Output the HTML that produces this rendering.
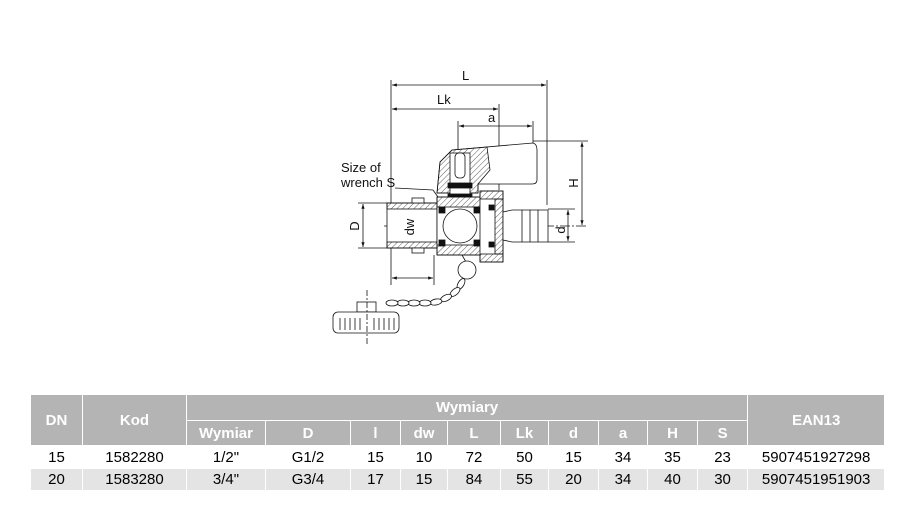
<!DOCTYPE html>
<html><head><meta charset="utf-8"><style>
body{margin:0;background:#fff;width:899px;height:516px;position:relative;overflow:hidden;font-family:"Liberation Sans",Arial,sans-serif}
svg{position:absolute;left:0;top:0}
table{position:absolute;left:30px;top:394px;border-collapse:collapse;width:854px;font-size:15px;table-layout:fixed}
td{text-align:center;padding:0;border:1px solid #fff;white-space:nowrap;overflow:hidden}
.h{background:#b4b4b4;color:#fff;font-weight:bold;font-size:15px}
.r2 td{background:#e4e4e4}
</style></head><body>
<svg width="899" height="380" viewBox="0 0 899 380" font-family="Liberation Sans, sans-serif" fill="none" stroke="#111" stroke-width="0.8">
<defs>
<pattern id="hat" width="4" height="4" patternUnits="userSpaceOnUse" patternTransform="rotate(45)"><line x1="0" y1="0" x2="0" y2="4" stroke="#333" stroke-width="0.8"/></pattern>
<marker id="a" markerWidth="6" markerHeight="6" refX="6" refY="3" orient="auto-start-reverse"><path d="M0,1 L6,3 L0,5z" fill="#111" stroke="none"/></marker>
</defs>
<line x1="391" y1="80" x2="391" y2="285"/>
<line x1="547" y1="80" x2="547" y2="205"/>
<line x1="499" y1="104" x2="499" y2="190"/>
<line x1="458" y1="121" x2="458" y2="155"/>
<line x1="533" y1="121" x2="533" y2="150"/>
<line x1="434" y1="255" x2="434" y2="285"/>
<line x1="392" y1="85" x2="546" y2="85" marker-start="url(#a)" marker-end="url(#a)"/>
<line x1="392" y1="109" x2="498" y2="109" marker-start="url(#a)" marker-end="url(#a)"/>
<line x1="459" y1="126" x2="532" y2="126" marker-start="url(#a)" marker-end="url(#a)"/>
<line x1="392" y1="278" x2="433" y2="278" marker-start="url(#a)" marker-end="url(#a)"/>
<line x1="533" y1="141" x2="588" y2="141"/>
<line x1="582" y1="142" x2="582" y2="225" marker-start="url(#a)" marker-end="url(#a)"/>
<line x1="548" y1="209" x2="575" y2="209"/>
<line x1="548" y1="242" x2="575" y2="242"/>
<line x1="568" y1="210" x2="568" y2="241" marker-start="url(#a)" marker-end="url(#a)"/>
<line x1="358" y1="203" x2="390" y2="203"/>
<line x1="358" y1="248" x2="390" y2="248"/>
<line x1="363" y1="204" x2="363" y2="247" marker-start="url(#a)" marker-end="url(#a)"/>
<line x1="395" y1="213" x2="420" y2="213"/>
<line x1="395" y1="240" x2="420" y2="240"/>
<line x1="418" y1="214" x2="418" y2="239" marker-start="url(#a)" marker-end="url(#a)"/>
<line x1="384" y1="226" x2="588" y2="226" stroke-dasharray="10,2,2,2"/>
<path d="M437,193 L440,162 L452,150 L533,143 Q537,144 537,150 L537,180 Q537,184 532,184 L478,184 L478,193 Z" fill="#fff"/>
<path d="M437,193 L440,162 L452,150 L487,147 L490,170 L478,184 L478,193 Z" fill="url(#hat)"/>
<rect x="450" y="153" width="20" height="55" fill="#fff"/>
<rect x="455" y="153" width="10" height="25" rx="4" fill="#fff"/>
<rect x="448" y="183" width="24" height="5" fill="#111"/>
<rect x="448" y="194" width="24" height="5" fill="#111"/>
<rect x="387" y="203" width="50" height="45" fill="#fff"/>
<rect x="387" y="203" width="50" height="6" fill="url(#hat)"/>
<rect x="387" y="242" width="50" height="6" fill="url(#hat)"/>
<rect x="437" y="197" width="45" height="58" fill="#fff"/>
<rect x="437" y="197" width="45" height="10" fill="url(#hat)"/>
<rect x="437" y="245" width="45" height="10" fill="url(#hat)"/>
<circle cx="460" cy="226" r="17" fill="#fff"/>
<rect x="439" y="207" width="6" height="6" fill="#111"/><rect x="474" y="207" width="6" height="6" fill="#111"/>
<rect x="439" y="240" width="6" height="6" fill="#111"/><rect x="474" y="240" width="6" height="6" fill="#111"/>
<rect x="412" y="198" width="12" height="5" fill="#fff"/>
<rect x="412" y="248" width="12" height="5" fill="#fff"/>
<rect x="480" y="191" width="23" height="71" fill="#fff"/>
<rect x="480" y="191" width="23" height="8" fill="url(#hat)"/>
<rect x="480" y="254" width="23" height="8" fill="url(#hat)"/>
<rect x="495" y="199" width="8" height="55" fill="url(#hat)"/>
<rect x="489" y="205" width="5" height="5" fill="#111"/><rect x="489" y="242" width="5" height="5" fill="#111"/>
<path d="M503,212 L512,210 L548,210 L548,242 L512,242 L503,240 Z" fill="#fff"/>
<line x1="522" y1="210" x2="522" y2="242"/><line x1="530" y1="210" x2="530" y2="242"/><line x1="538" y1="210" x2="538" y2="242"/>
<text x="341" y="172" font-size="13" fill="#111" stroke="none">Size of</text>
<text x="341" y="187" font-size="13" fill="#111" stroke="none">wrench S</text>
<line x1="395" y1="188" x2="433" y2="190"/><line x1="433" y1="190" x2="438" y2="197"/>
<text x="462" y="80" font-size="13" fill="#111" stroke="none">L</text>
<text x="437" y="104" font-size="13" fill="#111" stroke="none">Lk</text>
<text x="488" y="122" font-size="13" fill="#111" stroke="none">a</text>
<text transform="translate(578,183) rotate(-90)" font-size="13" fill="#111" stroke="none" text-anchor="middle">H</text>
<text transform="translate(565,230) rotate(-90)" font-size="13" fill="#111" stroke="none" text-anchor="middle">d</text>
<text transform="translate(359,226) rotate(-90)" font-size="13" fill="#111" stroke="none" text-anchor="middle">D</text>
<text transform="translate(414,227) rotate(-90)" font-size="13" fill="#111" stroke="none" text-anchor="middle">dw</text>
<line x1="462" y1="255" x2="466" y2="262"/>
<circle cx="467" cy="270" r="9" fill="#fff"/>
<g fill="#fff">
<ellipse cx="461" cy="284" rx="3" ry="6" transform="rotate(30 461 284)"/>
<ellipse cx="455" cy="292" rx="3" ry="6" transform="rotate(50 455 292)"/>
<ellipse cx="446" cy="298" rx="3" ry="6" transform="rotate(65 446 298)"/>
<ellipse cx="436" cy="302" rx="3" ry="6" transform="rotate(80 436 302)"/>
<ellipse cx="425" cy="303" rx="3" ry="6" transform="rotate(90 425 303)"/>
<ellipse cx="414" cy="303" rx="3" ry="6" transform="rotate(90 414 303)"/>
<ellipse cx="403" cy="303" rx="3" ry="6" transform="rotate(90 403 303)"/>
<ellipse cx="392" cy="303" rx="3" ry="6" transform="rotate(90 392 303)"/>
</g>
<rect x="357" y="302" width="19" height="10" fill="#fff"/>
<rect x="333" y="312" width="66" height="21" rx="5" fill="#fff"/>
<g>
<line x1="340" y1="318" x2="340" y2="330"/><line x1="345" y1="318" x2="345" y2="330"/><line x1="350" y1="318" x2="350" y2="330"/><line x1="355" y1="318" x2="355" y2="330"/><line x1="360" y1="318" x2="360" y2="330"/><line x1="374" y1="318" x2="374" y2="330"/><line x1="379" y1="318" x2="379" y2="330"/><line x1="384" y1="318" x2="384" y2="330"/><line x1="389" y1="318" x2="389" y2="330"/><line x1="394" y1="318" x2="394" y2="330"/>
</g>
<line x1="367" y1="290" x2="367" y2="345" stroke-dasharray="6,2,2,2"/>
</svg>
<table>
<colgroup><col style="width:52px"><col style="width:104px"><col style="width:79px"><col style="width:85px"><col style="width:50px"><col style="width:47px"><col style="width:53px"><col style="width:48px"><col style="width:50px"><col style="width:49px"><col style="width:50px"><col style="width:50px"><col style="width:137px"></colgroup>
<tr class="h" style="height:26px"><td rowspan="2">DN</td><td rowspan="2">Kod</td><td colspan="10">Wymiary</td><td rowspan="2">EAN13</td></tr>
<tr class="h" style="height:25px"><td>Wymiar</td><td>D</td><td>l</td><td>dw</td><td>L</td><td>Lk</td><td>d</td><td>a</td><td>H</td><td>S</td></tr>
<tr style="height:23px"><td>15</td><td>1582280</td><td>1/2"</td><td>G1/2</td><td>15</td><td>10</td><td>72</td><td>50</td><td>15</td><td>34</td><td>35</td><td>23</td><td>5907451927298</td></tr>
<tr class="r2" style="height:22px"><td>20</td><td>1583280</td><td>3/4"</td><td>G3/4</td><td>17</td><td>15</td><td>84</td><td>55</td><td>20</td><td>34</td><td>40</td><td>30</td><td>5907451951903</td></tr>
</table>
</body></html>
